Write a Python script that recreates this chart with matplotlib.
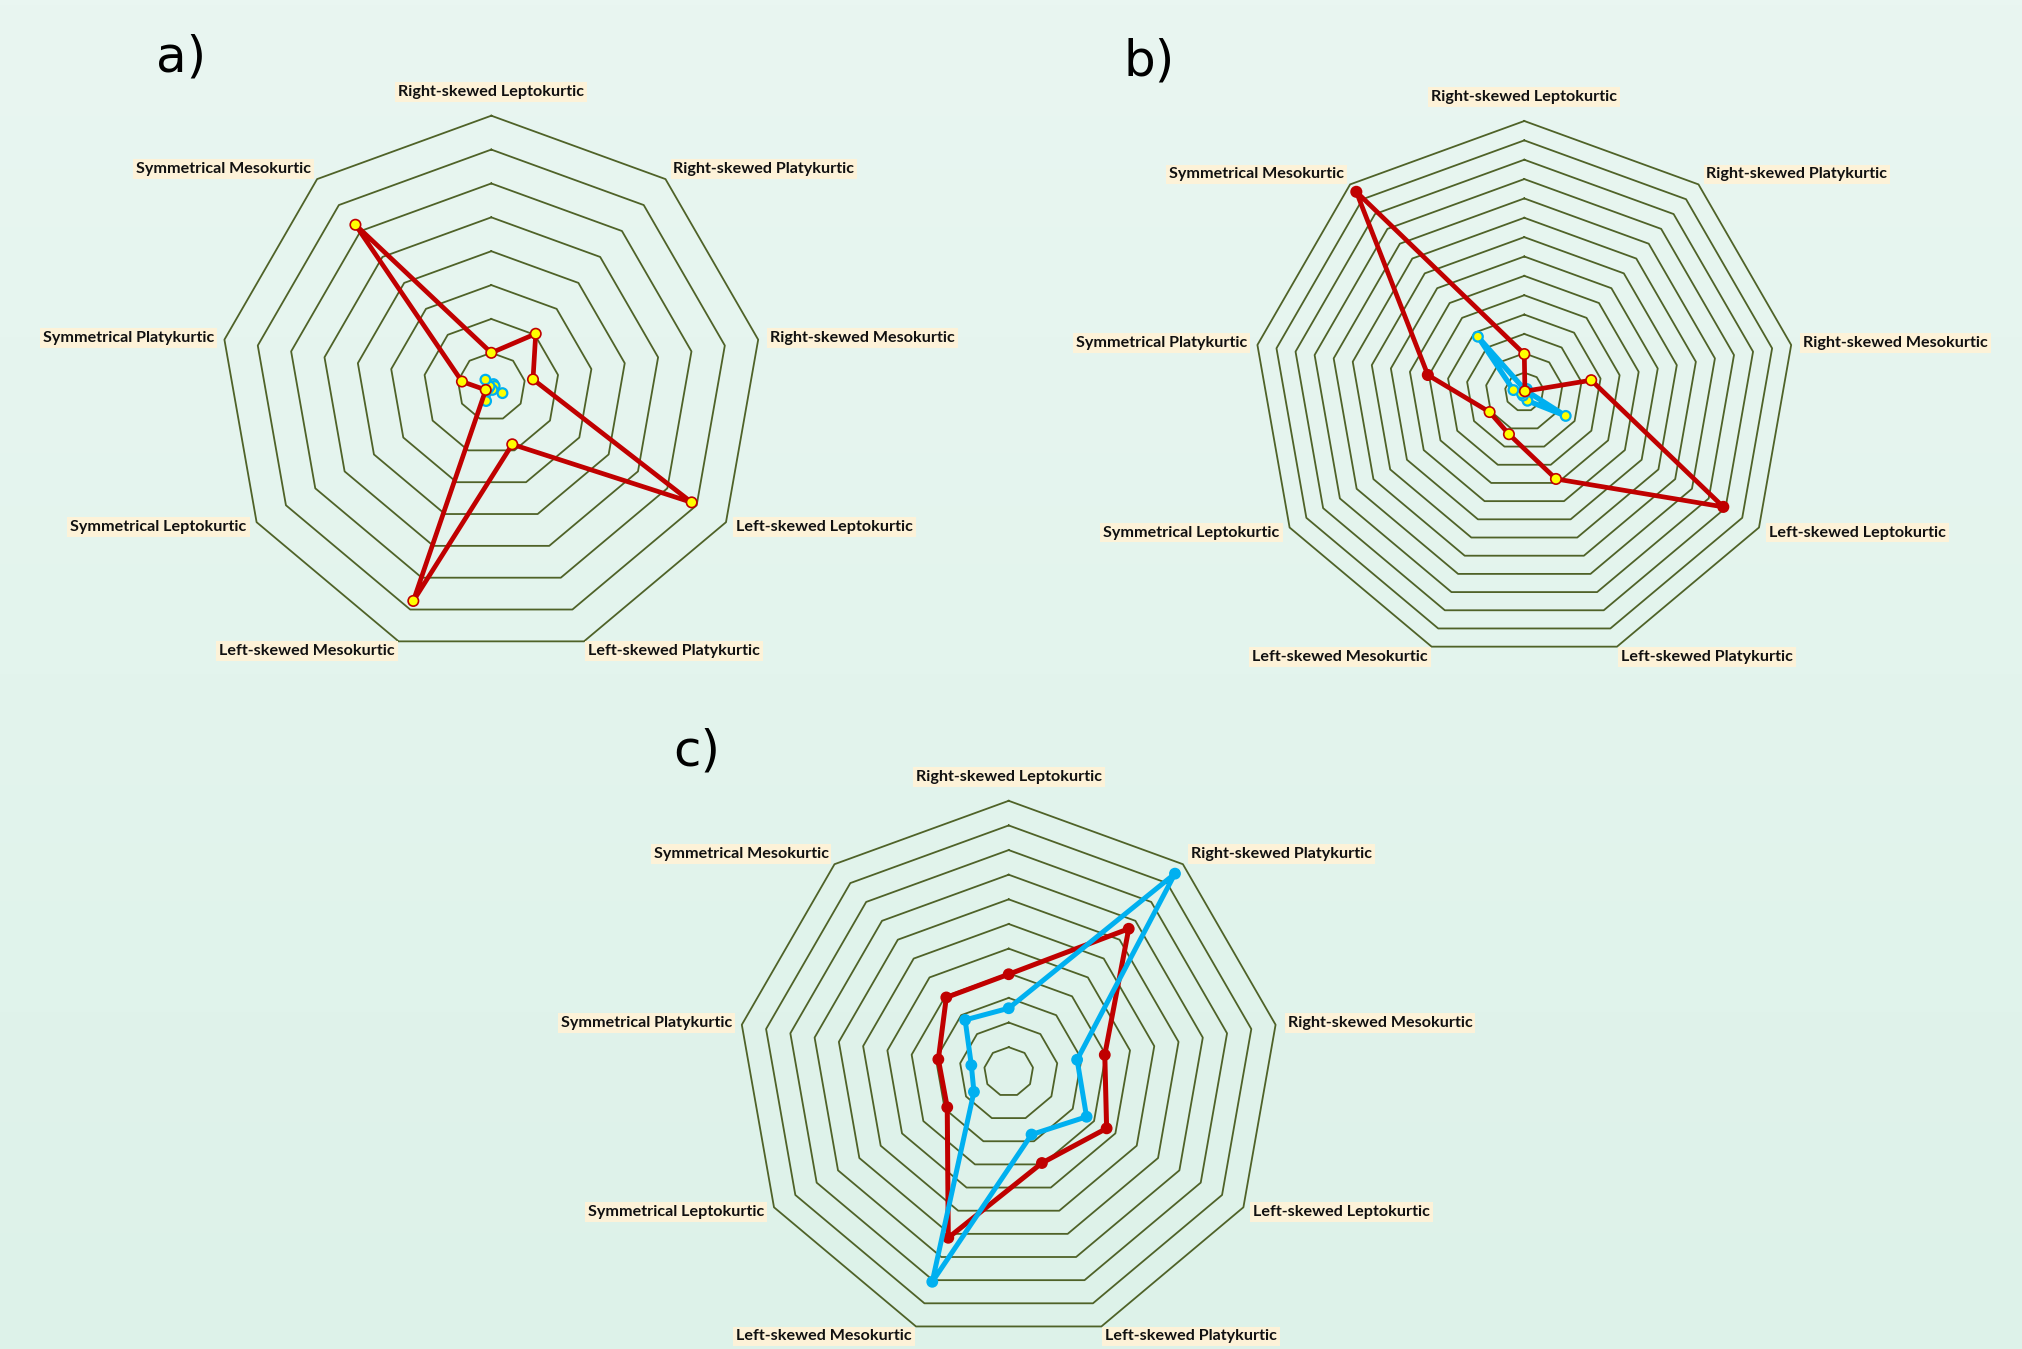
import numpy as np
import matplotlib.pyplot as plt

# categorie (in senso orario partendo dall'alto)
categories = ["Right-skewed Leptokurtic", "Right-skewed Platykurtic", "Right-skewed Mesokurtic",
              "Left-skewed Leptokurtic", "Left-skewed Platykurtic", "Left-skewed Mesokurtic",
              "Symmetrical Leptokurtic", "Symmetrical Platykurtic", "Symmetrical Mesokurtic"]

# pannello a) - 8 anelli
rings_a = 8
red_a = [1.0, 2.04, 1.25, 6.83, 1.81, 6.73, 0.19, 0.88, 6.24]
blue_a = [0.05, 0.1, 0.1, 0.38, 0.1, 0.45, 0.1, 0.05, 0.27]

# pannello b) - 14 anelli
rings_b = 14
red_b = [1.96, 0.05, 3.51, 11.87, 4.78, 2.32, 2.07, 5.06, 13.5]
blue_b = [0.15, 0.2, 0.15, 2.47, 0.48, 0.2, 0.15, 0.57, 3.73]
# punti di b) con marker rosso pieno invece che giallo
red_b_solid = [False, False, False, True, False, False, False, True, True]

# pannello c) - 11 anelli
rings_c = 11
red_c = [3.96, 7.58, 3.96, 4.59, 3.94, 7.17, 2.88, 2.9, 3.94]
blue_c = [2.58, 10.5, 2.82, 3.65, 2.71, 9.07, 1.63, 1.54, 2.75]

RED = '#C00000'
CYAN = '#00B0F0'
YELLOW = '#FFFF00'
GRID = '#4F6228'
LABEL_BG = '#FDF2D8'

W, H = 2022, 1349
R_PX = 271      # raggio esterno in pixel
HALF = 300      # meta' lato degli assi in pixel

angles = np.deg2rad(np.arange(9) * 40.0)

# offset etichette (pixel, y verso l'alto) e allineamento
label_pos = [(0, 24, 'center'), (8, 10, 'left'), (12, 2, 'left'), (10, -5, 'left'),
             (4, -10, 'left'), (-4, -10, 'right'), (-10, -5, 'right'), (-10, 2, 'right'),
             (-6, 10, 'right')]


def to_xy(values):
    v = np.asarray(values, dtype=float)
    x = v * np.sin(angles)
    y = v * np.cos(angles)
    return np.append(x, x[0]), np.append(y, y[0])


def radar(fig, cx, cy, rings, series):
    ax = fig.add_axes([(cx - HALF) / W, (H - cy - HALF) / H, 2 * HALF / W, 2 * HALF / H])
    ax.set_facecolor('none')
    lim = rings * HALF / R_PX
    ax.set_xlim(-lim, lim)
    ax.set_ylim(-lim, lim)
    ax.axis('off')

    # anelli
    for i in range(1, rings + 1):
        x, y = to_xy([i] * 9)
        ax.plot(x, y, color=GRID, lw=1.3, zorder=1)

    # etichette
    for k, name in enumerate(categories):
        dx, dy, ha = label_pos[k]
        ax.annotate(name, xy=(rings * np.sin(angles[k]), rings * np.cos(angles[k])),
                    xytext=(dx, dy), textcoords='offset pixels', ha=ha, va='center',
                    fontsize=11.6, fontweight='bold', family=['Lato', 'DejaVu Sans'],
                    color='#111111',
                    bbox=dict(boxstyle='square,pad=0.18', fc=LABEL_BG, ec='none'))

    for z, (values, color, lw, ms, faces, edge_w) in enumerate(series):
        x, y = to_xy(values)
        ax.plot(x, y, color=color, lw=lw, zorder=3 + z, solid_joinstyle='round')
        ax.scatter(x[:-1], y[:-1], s=ms ** 2, c=faces, edgecolors=color,
                   linewidths=edge_w, zorder=3.5 + z)
    return ax


fig = plt.figure(figsize=(W / 100, H / 100), dpi=100)

# sfondo sfumato
bg = fig.add_axes([0, 0, 1, 1])
top = np.array([233, 246, 241]) / 255
bottom = np.array([221, 242, 233]) / 255
t = np.linspace(0, 1, 256)[:, None]
grad = top[None, :] * (1 - t) + bottom[None, :] * t
bg.imshow(grad[:, None, :], aspect='auto', extent=[0, 1, 0, 1])
bg.axis('off')

# a)
radar(fig, 491.3, 386.7, rings_a, [
    (blue_a, CYAN, 2.6, 7.0, [YELLOW] * 9, 1.6),
    (red_a, RED, 3.4, 7.5, [YELLOW] * 9, 1.2),
])

# b)
faces_b = [RED if s else YELLOW for s in red_b_solid]
radar(fig, 1524.3, 392.0, rings_b, [
    (blue_b, CYAN, 3.8, 7.0, [YELLOW] * 9, 1.6),
    (red_b, RED, 3.4, 7.5, faces_b, 1.2),
])

# c)
radar(fig, 1008.7, 1071.8, rings_c, [
    (red_c, RED, 3.6, 7.5, [RED] * 9, 1.0),
    (blue_c, CYAN, 3.6, 7.5, [CYAN] * 9, 1.0),
])

# lettere dei pannelli
for letter, px, py in [('a)', 156, 33), ('b)', 1123, 38), ('c)', 673, 727)]:
    fig.text(px / W, 1 - py / H, letter, fontsize=36, ha='left', va='top', color='black')

plt.savefig('out.png', dpi=100)
plt.close()
